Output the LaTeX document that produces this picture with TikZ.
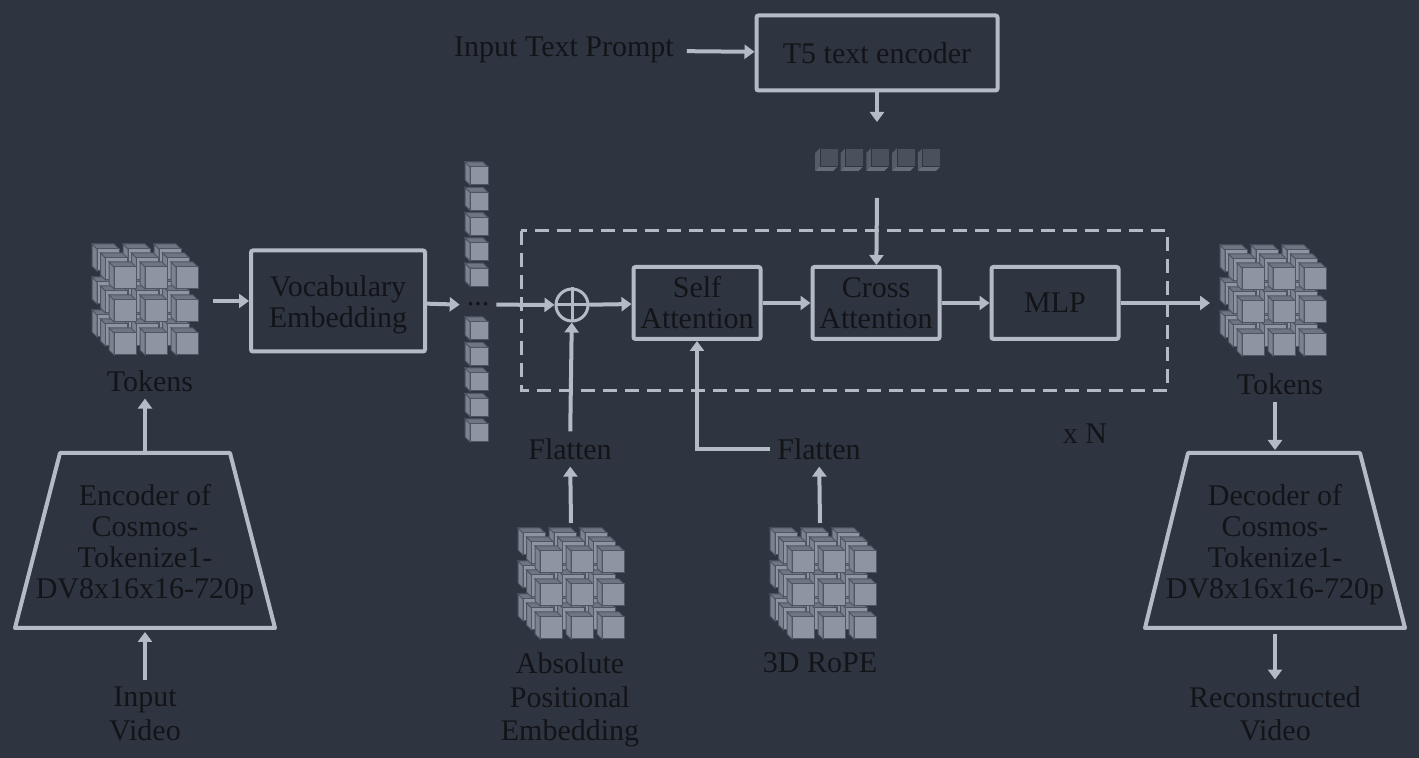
\documentclass[tikz,border=0pt]{standalone}
\usepackage{fontspec}
\setmainfont{Liberation Serif}
\usetikzlibrary{arrows.meta}

\definecolor{bgcol}{HTML}{2E3440}
\definecolor{linecol}{HTML}{B4BAC6}
\definecolor{txtcol}{HTML}{121418}
\definecolor{cubefront}{HTML}{8E95A2}
\definecolor{cubetop}{HTML}{6F7582}
\definecolor{cubeside}{HTML}{7C828F}
\definecolor{cubeedge}{HTML}{4F5562}
\definecolor{tcubefront}{HTML}{4A505C}
\definecolor{tcubeside}{HTML}{555B67}
\definecolor{tcubebot}{HTML}{666C78}

\tikzset{
  pics/cube/.style={code={
      \filldraw[draw=cubeedge, fill=cubeside, line width=0.5pt] (0,0) -- (-5,-5) -- (-5,#1-5) -- (0,#1) -- cycle;
      \filldraw[draw=cubeedge, fill=cubetop, line width=0.5pt] (0,0) -- (-5,-5) -- (#1-5,-5) -- (#1,0) -- cycle;
      \filldraw[draw=cubeedge, fill=cubefront, line width=0.5pt] (0,0) rectangle (#1,#1);
  }},
  pics/tcube/.style={code={
      \fill[tcubeside] (0,0) -- (-5,5) -- (-5,#1+5) -- (0,#1) -- cycle;
      \fill[tcubebot] (0,#1) -- (-5,#1+5) -- (#1-5,#1+5) -- (#1,#1) -- cycle;
      \filldraw[draw=bgcol, fill=tcubefront, line width=0.4pt] (0,0) rectangle (#1,#1);
  }},
  pics/cubestack/.style={code={
      \foreach \k in {2,1,0}
        \foreach \r in {0,1,2}
          \foreach \c in {0,1,2}
            \pic at ({\c*31-\k*8.5},{\r*33-\k*9}) {cube=22};
  }}
}

\begin{document}
\begin{tikzpicture}[x=0.5pt, y=-0.5pt,
    font=\fontsize{15}{15.5}\selectfont,
    blk/.style={draw=linecol, line width=2pt, text=txtcol, align=center, rounded corners=1pt},
    lbl/.style={text=txtcol, align=center},
    wide/.style={font=\fontsize{15}{16.75}\selectfont},
    ln/.style={draw=linecol, line width=2pt, line join=round},
    arr/.style={draw=linecol, line width=2pt, -{Triangle[length=5pt,width=7pt]}}]
  \fill[bgcol] (0,0) rectangle (1419,758);

  % text prompt branch
  \node[lbl] (prompt) at (564,50) {Input Text Prompt};
  \node[blk, minimum width=120.5pt, minimum height=37.5pt] (t5) at (877,53) {T5 text encoder};
  \draw[arr, shorten <=3pt] (prompt) -- (t5);
  \coordinate (t5out) at (877,122);
  \draw[arr] (t5) -- (t5out);
  \foreach \i in {0,...,4}
    \pic at ({820+25.7*\i},148) {tcube=18};
  \coordinate (tembout) at (877,198);

  % transformer block
  \draw[linecol, line width=1.5pt, dash pattern=on 7pt off 4pt] (521,231) rectangle (1167,391);
  \node[blk, minimum width=63.5pt, minimum height=36pt] (self) at (697,303) {Self\\Attention};
  \node[blk, minimum width=63.5pt, minimum height=36pt] (cross) at (876,303) {Cross\\Attention};
  \node[blk, minimum width=63.5pt, minimum height=36pt] (mlp) at (1055,303) {MLP};
  \node[circle, draw=linecol, line width=1.5pt, minimum size=16pt, inner sep=0pt] (plus) at (572,305) {};
  \draw[linecol, line width=1.5pt] (plus.north) -- (plus.south) (plus.west) -- (plus.east);
  \draw[arr] (tembout) -- (cross);
  \draw[arr] (plus) -- (self);
  \draw[arr] (self) -- (cross);
  \draw[arr] (cross) -- (mlp);
  \coordinate (mlpout) at (1210,303);
  \draw[arr] (mlp) -- (mlpout);
  \node[lbl] (rep) at (1085,434) {x N};

  % input side
  \pic at (114,267) {cubestack};
  \node[lbl] (tokL) at (150,381) {Tokens};
  \coordinate (stackL) at (213,301);
  \node[blk, minimum width=87pt, minimum height=50.5pt] (vocab) at (338,301) {\rule{0pt}{14pt}Vocabulary\\Embedding};
  \draw[arr] (stackL) -- (vocab);
  \foreach \i in {0,...,4}
    \pic at (470,{167+25.3*\i}) {cube=18};
  \foreach \i in {0,...,4}
    \pic at (470,{322+25.5*\i}) {cube=18};
  \node[lbl, anchor=base] (dots) at (478,306) {...};
  \draw[arr] (vocab) -- (dots.west);
  \draw[arr] (dots.east) -- (plus);

  % positional embeddings
  \node[lbl] (flat1) at (570,449) {Flatten};
  \draw[arr] (flat1) -- (plus);
  \pic at (540,551) {cubestack};
  \coordinate (absout) at (571,523);
  \draw[arr] (absout) -- (flat1);
  \node[lbl, wide] (abs) at (570,700) {Absolute\\Positional\\Embedding};
  \node[lbl] (flat2) at (819,449) {Flatten};
  \draw[arr] (flat2.west) -| (self);
  \pic at (792,551) {cubestack};
  \coordinate (ropeout) at (820,523);
  \draw[arr] (ropeout) -- (flat2);
  \node[lbl] (rope) at (820,663) {3D RoPE};

  % encoder
  \draw[ln] (60,453) -- (230,453) -- (275,628) -- (15,628) -- cycle;
  \coordinate (enctop) at (145,453);
  \coordinate (encbot) at (145,632);
  \node[lbl] (enc) at (145,545) {Encoder of\\Cosmos-\\Tokenize1-\\DV8x16x16-720p};
  \node[lbl, wide] (vidin) at (145,714) {Input\\Video};
  \draw[arr] (vidin) -- (encbot);
  \draw[arr] (enctop) -- (enctop |- tokL.south);

  % decoder
  \pic at (1242,268) {cubestack};
  \node[lbl] (tokR) at (1280,384) {Tokens};
  \draw[ln] (1188,453) -- (1360,453) -- (1405,628) -- (1145,628) -- cycle;
  \coordinate (dectop) at (1275,450);
  \coordinate (decbot) at (1275,634);
  \node[lbl] (dec) at (1275,545) {Decoder of\\Cosmos-\\Tokenize1-\\DV8x16x16-720p};
  \node[lbl, wide] (vidout) at (1275,714) {Reconstructed\\Video};
  \draw[arr] (tokR.south -| dectop) -- (dectop);
  \draw[arr] (decbot) -- (vidout);
\end{tikzpicture}
\end{document}
